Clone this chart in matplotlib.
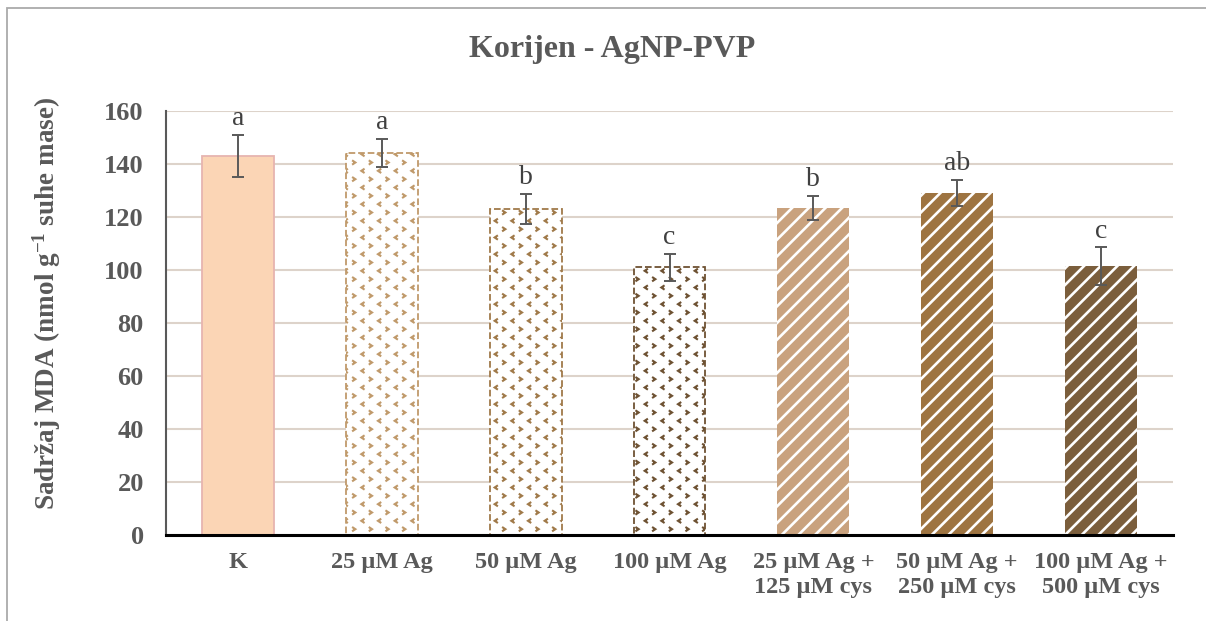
import matplotlib
matplotlib.use("Agg")
import matplotlib.pyplot as plt
import matplotlib.hatch as mhatch
from matplotlib.patches import Rectangle
from matplotlib.path import Path
import numpy as np

categories = ["K", "25 µM Ag", "50 µM Ag", "100 µM Ag",
              "25 µM Ag +\n125 µM cys", "50 µM Ag +\n250 µM cys", "100 µM Ag +\n500 µM cys"]
values = [143, 144, 123, 101, 123.5, 129, 101.5]
errors = [8, 5.3, 5.7, 5, 4.6, 5, 7]
letters = ["a", "a", "b", "c", "b", "ab", "c"]
y_ticks = [0, 20, 40, 60, 80, 100, 120, 140, 160]

face_colors = ["#FBD5B5", "white", "white", "white", "#C9A27E", "#9E7441", "#7B5E3C"]
edge_colors = ["#E6B4B0", "#C09A6B", "#A07A4A", "#6E5233", "white", "white", "white"]
hatches = [None, "*", "*", "*", "//", "//", "//"]
line_styles = ["-", "--", "--", "--", "-", "-", "-"]


class ChevronDots(mhatch.HatchPatternBase):
    """Small alternating '>' / '<' marks on a staggered lattice (hatch char '*')."""
    cols = 6
    rows = 12

    def __init__(self, hatch, density):
        self.on = hatch.count("*") > 0
        self.num_vertices = self.cols * self.rows * 3 if self.on else 0

    def set_vertices_and_codes(self, vertices, codes):
        w, h = 0.024, 0.032
        i = 0
        for r in range(self.rows):
            y = (r + 0.5) / self.rows
            shift = 0.0 if r % 2 == 0 else 0.5
            sign = 1 if r % 2 == 0 else -1
            for c in range(self.cols):
                x = (c + shift + 0.25) / self.cols
                vertices[i] = (x - sign * w / 2, y + h / 2)
                vertices[i + 1] = (x + sign * w / 2, y)
                vertices[i + 2] = (x - sign * w / 2, y - h / 2)
                codes[i] = Path.MOVETO
                codes[i + 1] = Path.LINETO
                codes[i + 2] = Path.LINETO
                i += 3


mhatch._hatch_types = [t for t in mhatch._hatch_types if t is not mhatch.Stars] + [ChevronDots]

plt.rcParams["font.family"] = ["Liberation Serif", "DejaVu Serif"]
plt.rcParams["mathtext.fontset"] = "custom"
plt.rcParams["mathtext.rm"] = "Liberation Serif:bold"
plt.rcParams["mathtext.default"] = "rm"

fig = plt.figure(figsize=(12.06, 6.21), dpi=100)
ax = fig.add_axes([166 / 1206, 1 - 535 / 621, (1173 - 166) / 1206, (535 - 111) / 621])

x = np.arange(len(categories))
for i in range(len(categories)):
    lw = 1.3 if i < 4 else 0
    with plt.rc_context({"hatch.linewidth": 1.9 if i >= 4 else 1.5}):
        ax.bar(x[i], values[i], width=0.5, color=face_colors[i], edgecolor=edge_colors[i],
               hatch=hatches[i], linewidth=lw, linestyle=line_styles[i], zorder=2)
    ax.errorbar(x[i], values[i], yerr=errors[i], fmt="none", ecolor="#595959",
                elinewidth=1.4, capsize=4, capthick=1.4, zorder=3)
    ax.text(x[i], values[i] + errors[i] + 1.5, letters[i], ha="center", va="bottom",
            fontsize=20, color="#404040")

ax.set_xlim(-0.5, len(categories) - 0.5)
ax.set_ylim(0, 160)
ax.set_yticks(y_ticks)
ax.set_yticklabels([str(t) for t in y_ticks], fontsize=19, fontweight="bold", color="#595959")
ax.set_xticks(x)
ax.set_xticklabels(categories, fontsize=17.5, fontweight="bold", color="#595959",
                   linespacing=1.3, va="top")
ax.tick_params(axis="x", length=0, pad=12)
ax.tick_params(axis="y", length=0, pad=16)
ax.yaxis.grid(True, color="#DDD3CA", linewidth=1.5, zorder=0)
ax.set_axisbelow(True)
for s in ["top", "right"]:
    ax.spines[s].set_visible(False)
ax.spines["left"].set_color("#595959")
ax.spines["left"].set_linewidth(1.5)
ax.spines["bottom"].set_color("black")
ax.spines["bottom"].set_linewidth(2.2)
ax.spines["bottom"].set_zorder(4)

fig.text(47 / 1206, 1 - 303 / 621, "Sadržaj MDA (nmol g$^{-1}$ suhe mase)", rotation=90,
         ha="center", va="center", fontsize=19.5, fontweight="bold", color="#595959")

fig.text(612 / 1206, 1 - 50 / 621, "Korijen - AgNP-PVP", ha="center", va="center",
         fontsize=23, fontweight="bold", color="#595959")

fig.patches.append(Rectangle((7 / 1206, -0.05), 1.1, 1 - 8 / 621 + 0.05,
                             transform=fig.transFigure, fill=False,
                             edgecolor="#AAAAAA", linewidth=1.3))

fig.savefig("out.png", dpi=100, facecolor="white")
